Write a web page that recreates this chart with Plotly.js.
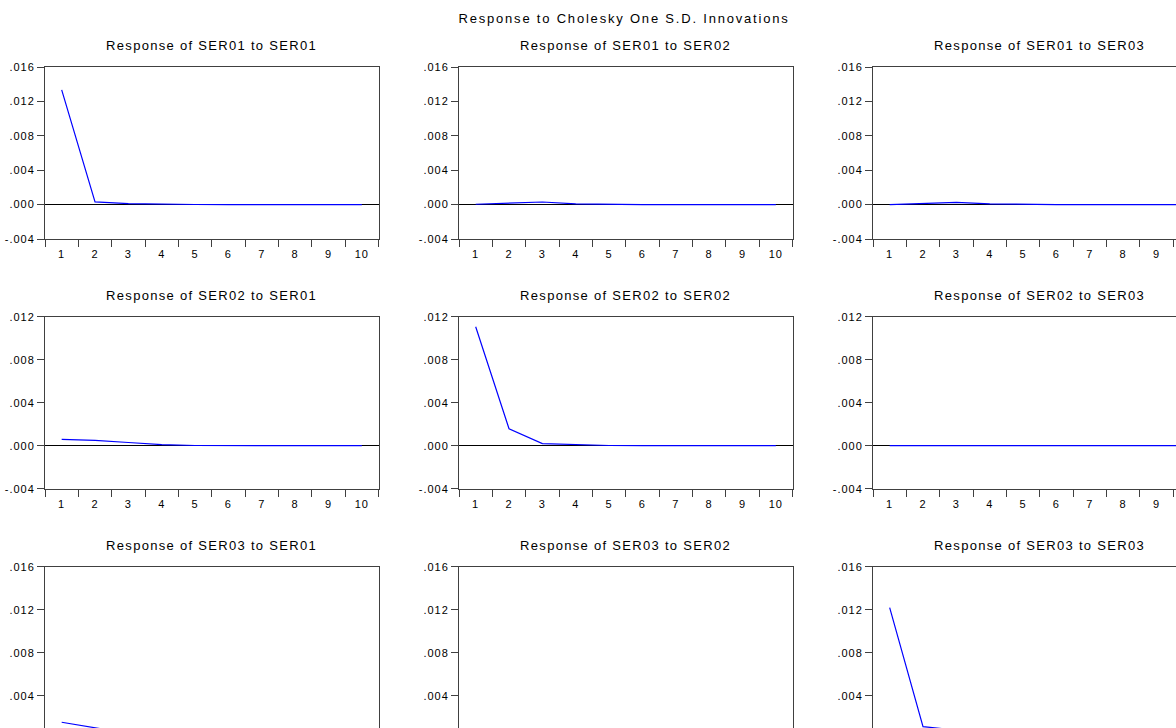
<!DOCTYPE html>
<html>
<head>
<meta charset="utf-8">
<script src="https://cdn.plot.ly/plotly-3.0.1.min.js"></script>
<style>
  html, body { margin: 0; padding: 0; overflow: hidden; background: #ffffff; width: 1176px; height: 728px; }
  #chart { width: 1250px; height: 785px; }
  #chart text { letter-spacing: 1px; }
  #chart .annotation-text { letter-spacing: 1.3px; }
  #chart .gtitle { letter-spacing: 1.8px; }
</style>
</head>
<body>
<div id="chart"></div>
<script>
// ---------------- data ----------------
const periods = ['1', '2', '3', '4', '5', '6', '7', '8', '9', '10'];

const panelTitles = [
  'Response of SER01 to SER01', 'Response of SER01 to SER02', 'Response of SER01 to SER03',
  'Response of SER02 to SER01', 'Response of SER02 to SER02', 'Response of SER02 to SER03',
  'Response of SER03 to SER01', 'Response of SER03 to SER02', 'Response of SER03 to SER03'
];

const ser01_to_ser01 = [0.01334, 0.00031, 0.00011, 0.00003, 0.00001, 0, 0, 0, 0, 0];
const ser01_to_ser02 = [0.00004, 0.00018, 0.00030, 0.00009, 0.00002, 0, 0, 0, 0, 0];
const ser01_to_ser03 = [0.00000, 0.00009, 0.00025, 0.00008, 0.00001, 0, 0, 0, 0, 0];
const ser02_to_ser01 = [0.00058, 0.00050, 0.00030, 0.00010, 0.00002, 0, 0, 0, 0, 0];
const ser02_to_ser02 = [0.01107, 0.00158, 0.00019, 0.00008, 0.00002, 0, 0, 0, 0, 0];
const ser02_to_ser03 = [0.00000, 0.00000, -0.00006, 0.00000, 0, 0, 0, 0, 0, 0];
const ser03_to_ser01 = [0.00153, 0.00104, 0.00050, 0.00020, 0.00006, 0.00002, 0, 0, 0, 0];
const ser03_to_ser02 = [0.00020, 0.00060, 0.00050, 0.00020, 0.00005, 0, 0, 0, 0, 0];
const ser03_to_ser03 = [0.01219, 0.00112, 0.00080, 0.00030, 0.00010, 0.00003, 0, 0, 0, 0];

const panelSeries = [
  ser01_to_ser01, ser01_to_ser02, ser01_to_ser03,
  ser02_to_ser01, ser02_to_ser02, ser02_to_ser03,
  ser03_to_ser01, ser03_to_ser02, ser03_to_ser03
];

// y tick values / labels per row
const row1TickVals = [-0.004, 0, 0.004, 0.008, 0.012, 0.016];
const row1TickText = ['-.004', '.000', '.004', '.008', '.012', '.016'];
const row2TickVals = [-0.004, 0, 0.004, 0.008, 0.012];
const row2TickText = ['-.004', '.000', '.004', '.008', '.012'];
const row3TickVals = [0, 0.004, 0.008, 0.012, 0.016];
const row3TickText = ['.000', '.004', '.008', '.012', '.016'];
const rowTicks = [[row1TickVals, row1TickText], [row2TickVals, row2TickText], [row3TickVals, row3TickText]];

const mainTitle = 'Response to Cholesky One S.D. Innovations';

// ---------------- layout (pixels) ----------------
const W = 1250, H = 785;
const colLeft = [45, 459, 873];
const panelW = 333.5;
const rowTop = [67, 316.7, 566.7];
const panelH = 172;
const titleGap = 21;

const FONT = '"Liberation Sans", Arial, sans-serif';
const axisColor = '#404040';

const traces = [];
const layout = {
  width: W, height: H,
  margin: {l: 0, r: 0, t: 0, b: 0},
  paper_bgcolor: '#ffffff', plot_bgcolor: '#ffffff',
  showlegend: false,
  font: {family: FONT, size: 11, color: '#000000'},
  title: {
    text: mainTitle,
    x: 624 / W, xref: 'container', xanchor: 'center',
    y: 1 - 18 / H, yref: 'container', yanchor: 'middle',
    font: {family: FONT, size: 13, color: '#000000'}
  },
  annotations: []
};

for (let i = 0; i < 9; i++) {
  const r = Math.floor(i / 3), c = i % 3;
  const n = i + 1;
  const xa = 'xaxis' + (n === 1 ? '' : n);
  const ya = 'yaxis' + (n === 1 ? '' : n);
  const xs = 'x' + (n === 1 ? '' : n);
  const ys = 'y' + (n === 1 ? '' : n);
  const x0 = colLeft[c] / W, x1 = (colLeft[c] + panelW) / W;
  const y1 = 1 - rowTop[r] / H, y0 = 1 - (rowTop[r] + panelH) / H;
  const tv = rowTicks[r][0], tt = rowTicks[r][1];

  traces.push({
    type: 'scatter', mode: 'lines',
    x: periods, y: panelSeries[i],
    xaxis: xs, yaxis: ys,
    line: {color: '#0000ff', width: 1.2},
    hoverinfo: 'skip'
  });

  layout[xa] = {
    domain: [x0, x1], anchor: ys,
    type: 'category', categoryorder: 'array', categoryarray: periods,
    range: [-0.5, 9.5],
    tickson: 'boundaries', ticks: 'outside', ticklen: 7, tickcolor: axisColor,
    ticklabelstandoff: 5,
    showline: true, linecolor: axisColor, linewidth: 1, mirror: true,
    showgrid: false, zeroline: false,
    tickfont: {family: FONT, size: 11, color: '#000000'}
  };
  layout[ya] = {
    domain: [y0, y1], anchor: xs,
    range: [tv[0], tv[tv.length - 1]],
    tickmode: 'array', tickvals: tv, ticktext: tt,
    ticks: 'outside', ticklen: 7, tickcolor: axisColor,
    showline: true, linecolor: axisColor, linewidth: 1, mirror: true,
    showgrid: false,
    zeroline: true, zerolinecolor: '#000000', zerolinewidth: 1,
    tickfont: {family: FONT, size: 11, color: '#000000'}
  };
  layout.annotations.push({
    text: panelTitles[i],
    xref: 'paper', yref: 'paper',
    x: (x0 + x1) / 2, y: 1 - (rowTop[r] - titleGap) / H,
    xanchor: 'center', yanchor: 'middle', showarrow: false,
    font: {family: FONT, size: 13, color: '#000000'}
  });
}

Plotly.newPlot('chart', traces, layout, {displayModeBar: false, staticPlot: true});
</script>
</body>
</html>
